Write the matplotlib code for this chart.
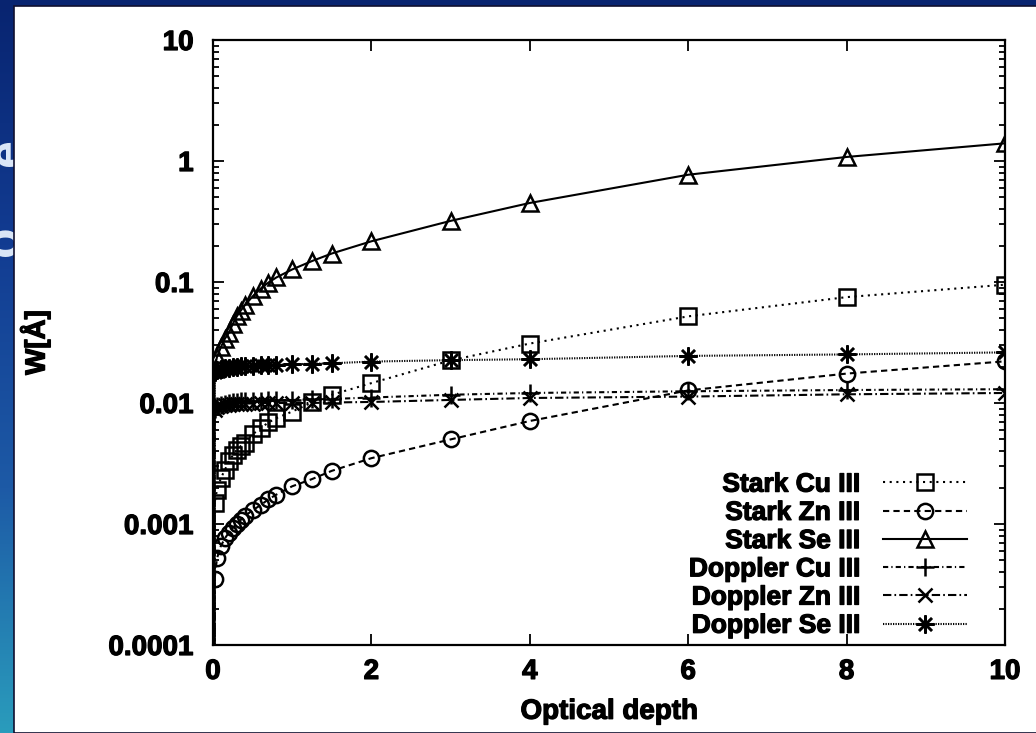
import numpy as np
import matplotlib
matplotlib.use("Agg")
import matplotlib.pyplot as plt
import matplotlib.patheffects as pe
from matplotlib.patches import Rectangle
from matplotlib.ticker import FixedLocator, LogLocator, FuncFormatter, NullFormatter

plt.rcParams["font.family"] = ["Liberation Sans", "DejaVu Sans"]
plt.rcParams["font.weight"] = "bold"

# optical depth grid (0 -> W = 0, drawn down to the axis on a log scale)
tau = [0, 0.02, 0.05, 0.1, 0.15, 0.2, 0.25, 0.3, 0.35, 0.4, 0.5, 0.6,
       0.7, 0.8, 1.0, 1.25, 1.5, 2, 3, 4, 6, 8, 10]

stark_cu = [0, 0.0015, 0.0019, 0.0024, 0.0028, 0.0033, 0.0037, 0.0041, 0.0044,
            0.0047, 0.0055, 0.0062, 0.0069, 0.0075, 0.0085, 0.0101, 0.0117,
            0.0146, 0.0225, 0.031, 0.052, 0.075, 0.095]
stark_zn = [0, 0.00035, 0.00052, 0.00066, 0.00076, 0.00085, 0.00093, 0.0010,
            0.00108, 0.00116, 0.0013, 0.00143, 0.0016, 0.00175, 0.00205,
            0.00235, 0.00275, 0.0035, 0.0050, 0.0071, 0.0127, 0.0175, 0.0221]
stark_se = [0, 0.019, 0.024, 0.029, 0.034, 0.038, 0.045, 0.052, 0.058, 0.064,
            0.076, 0.088, 0.099, 0.109, 0.127, 0.149, 0.172, 0.217, 0.32, 0.45,
            0.77, 1.08, 1.40]
dopp_cu = [0, 0.0090, 0.0094, 0.0097, 0.0099, 0.0100, 0.0101, 0.0102, 0.0103,
           0.0103, 0.0104, 0.0104, 0.0105, 0.0105, 0.0106, 0.0107, 0.0108,
           0.0111, 0.0117, 0.0121, 0.0125, 0.0128, 0.0130]
dopp_zn = [0, 0.0088, 0.0092, 0.0094, 0.0096, 0.0097, 0.0098, 0.0098, 0.0099,
           0.0099, 0.0099, 0.0100, 0.0100, 0.0100, 0.0100, 0.0100, 0.0101,
           0.0102, 0.0106, 0.0110, 0.0113, 0.0118, 0.0121]
dopp_se = [0, 0.0180, 0.0186, 0.0191, 0.0194, 0.0196, 0.0198, 0.0200, 0.0201,
           0.0202, 0.0204, 0.0205, 0.0206, 0.0207, 0.0209, 0.0211, 0.0213,
           0.0220, 0.0226, 0.0230, 0.0245, 0.0252, 0.0262]

labels = ["Stark Cu III", "Stark Zn III", "Stark Se III",
          "Doppler Cu III", "Doppler Zn III", "Doppler Se III"]
xticks = [0, 2, 4, 6, 8, 10]
yticks = [1e-4, 1e-3, 1e-2, 1e-1, 1, 10]

heavy = [pe.withStroke(linewidth=0.9, foreground="black")]

fig = plt.figure(figsize=(10.36, 7.33), dpi=100)

# slide background: blue strip on the left and top, white panel
grad = fig.add_axes([0, 0, 14 / 1036, 1])
g = np.linspace(0, 1, 256).reshape(-1, 1)
cmap = matplotlib.colors.LinearSegmentedColormap.from_list(
    "slide", ["#082470", "#123c92", "#1d5aa6", "#2a9cbc"])
grad.imshow(g, aspect="auto", cmap=cmap, extent=[0, 1, 0, 1], origin="upper")
grad.set_xlim(0, 1)
grad.set_ylim(0, 1)
grad.set_axis_off()
# bits of the slide title peeking out of the strip
grad.text(-1.0, 0.792, "e", rotation=90, fontsize=36, color="#dce8f8",
          ha="left", va="center", clip_on=True)
grad.text(-1.3, 0.672, "o", rotation=90, fontsize=36, color="#dce8f8",
          ha="left", va="center", clip_on=True)

fig.patches.append(Rectangle((0, 1 - 6 / 733), 1, 6 / 733, transform=fig.transFigure,
                             facecolor="#082470", edgecolor="none", zorder=0))
fig.patches.append(Rectangle((14 / 1036, 0), 1, 1 - 6 / 733, transform=fig.transFigure,
                             facecolor="none", edgecolor="#101030", lw=1.2, zorder=5))

ax = fig.add_axes([213 / 1036, 1 - 645 / 733, 792 / 1036, 605 / 733])

styles = [
    dict(marker="s", ms=11, mfc="none", dashes=(1, 2.2)),
    dict(marker="o", ms=11, mfc="none", dashes=(3, 2)),
    dict(marker="^", ms=11, mfc="none", linestyle="-"),
    dict(marker="+", ms=13, dashes=(2.5, 1.5, 0.6, 1.5)),
    dict(marker="x", ms=10, dashes=(4, 1.5, 0.8, 1.5)),
    dict(marker=(8, 2, 0), ms=13, dashes=(0.6, 0.6)),
]
series = [stark_cu, stark_zn, stark_se, dopp_cu, dopp_zn, dopp_se]

for vals, lab, st in zip(series, labels, styles):
    ax.plot(tau, vals, color="black", lw=1.5, mew=1.8, label=lab, **st)

ax.set_yscale("log")
ax.set_xlim(0, 10)
ax.set_ylim(1e-4, 10)
ax.xaxis.set_major_locator(FixedLocator(xticks))
ax.yaxis.set_major_locator(FixedLocator(yticks))
ax.yaxis.set_minor_locator(LogLocator(base=10, subs=np.arange(2, 10)))
ax.yaxis.set_minor_formatter(NullFormatter())
ax.yaxis.set_major_formatter(FuncFormatter(lambda v, p: f"{v:g}"))

ax.tick_params(which="both", direction="in", top=True, right=True, width=1.3)
ax.tick_params(which="major", length=8)
ax.tick_params(which="minor", length=4)
ax.tick_params(axis="y", labelsize=20, pad=14)
ax.tick_params(axis="x", labelsize=20, pad=10)
for sp in ax.spines.values():
    sp.set_linewidth(1.6)
for t in ax.get_xticklabels() + ax.get_yticklabels():
    t.set_path_effects(heavy)

ax.set_xlabel("Optical depth", fontsize=20, fontweight="bold", labelpad=10,
              path_effects=heavy)
ax.set_ylabel("W[Å]", fontsize=20, fontweight="bold", path_effects=heavy)
ax.yaxis.set_label_coords(-0.205, 0.5)

leg = ax.legend(loc="lower right", bbox_to_anchor=(0.952, 0.012), frameon=False,
                markerfirst=False, prop={"size": 19, "weight": "bold"},
                handlelength=3.2, handletextpad=0.85, labelspacing=0.16,
                borderpad=0, borderaxespad=0)
for t in leg.get_texts():
    t.set_path_effects(heavy)

fig.savefig("out.png", dpi=100, facecolor="white")
